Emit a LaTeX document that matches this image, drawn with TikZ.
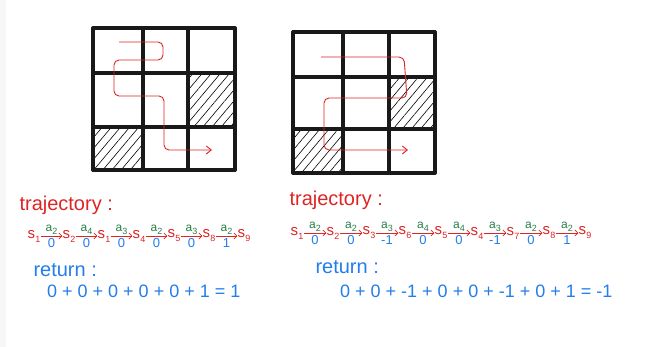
\documentclass[tikz,border=0pt]{standalone}
\usepackage{fontspec}
\setmainfont{Liberation Sans}
\usetikzlibrary{arrows.meta, patterns.meta}
\definecolor{penred}{RGB}{222,36,36}
\definecolor{pengreen}{RGB}{40,125,70}
\definecolor{penblue}{RGB}{35,125,235}
% letter with a lowered index
\newcommand{\idx}[2]{#1\kern0.3pt\raisebox{-0.5ex}{\fontsize{9}{9}\selectfont #2}}

\begin{document}
\begin{tikzpicture}[x=1pt, y=-1pt,
                gridline/.style={line width=3.3pt, line cap=round, black!90},
                hatch/.style={pattern={Lines[angle=50, distance=7pt, line width=0.6pt]}},
                walk/.style={penred, line width=0.9pt, rounded corners=5pt, -{Straight Barb[length=5pt, width=8pt]}},
                head/.style={anchor=west, text=penred, font=\fontsize{20}{22}\selectfont},
                state/.style={text=penred, font=\fontsize{15}{17}\selectfont, inner sep=0pt},
                move/.style={penred, line width=0.7pt, -{Straight Barb[length=3pt, width=6pt]}},
                act/.style={above=1pt, text=pengreen, font=\fontsize{12}{12}\selectfont, inner sep=0pt},
                rew/.style={below=2pt, text=penblue, font=\fontsize{13}{13}\selectfont, inner sep=0pt},
                ret/.style={anchor=west, text=penblue, font=\fontsize{20}{22}\selectfont},
                sum/.style={anchor=west, text=penblue, font=\fontsize{18}{20}\selectfont, inner sep=0pt}]
  \useasboundingbox (0,0) rectangle (657,347);
  \fill[black!3] (0,0) rectangle (6,347);

  % left grid
  \fill[hatch] (188,73) rectangle (235,127);
  \fill[hatch] (93,127) rectangle (143,170);
  \foreach \x in {93,143,188,235}
    \draw[gridline] (\x,28) -- (\x,170);
  \foreach \y in {28,73,127,170}
    \draw[gridline] (93,\y) -- (235,\y);
  \coordinate (startL) at (119,42);
  \coordinate (endL) at (212,150);
  \draw[walk] (startL) -- (163,42) -- (163,60) -- (114,60) -- (114,96)
    -- (164,96) -- (164,150) -- (endL);

  % right grid
  \fill[hatch] (389,77) rectangle (435,129);
  \fill[hatch] (293,129) rectangle (343,173);
  \foreach \x in {293,343,389,435}
    \draw[gridline] (\x,32) -- (\x,173);
  \foreach \y in {32,77,129,173}
    \draw[gridline] (293,\y) -- (435,\y);
  \coordinate (startR) at (321,57);
  \coordinate (endR) at (408,150);
  \draw[walk] (startR) -- (404,57) -- (407,98) -- (324,98) -- (324,150) -- (endR);

  % left texts
  \node[head] (trajL) at (16,205) {trajectory :};
  \foreach \s [count=\i] in {1,2,1,4,5,8,9}
    \node[state] (L\i) at ({34+35*(\i-1)},236) {\idx{s}{\s}};
  \foreach \a/\r [count=\i] in {2/0,4/0,3/0,2/0,3/0,2/1} {
    \pgfmathtruncatemacro\j{\i+1}
    \draw[move] (L\i) -- node[act] {\idx{a}{\a}} node[rew] {\r} (L\j);
  }
  \node[ret] (retL) at (30,270) {return :};
  \node[sum] (sumL) at (47,291) {0 + 0 + 0 + 0 + 0 + 1 = 1};

  % right texts
  \node[head] (trajR) at (286,200) {trajectory :};
  \foreach \s [count=\i] in {1,2,3,6,5,4,7,8,9}
    \node[state] (R\i) at ({297+36*(\i-1)},233) {\idx{s}{\s}};
  \foreach \a/\r [count=\i] in {2/0,2/0,3/-1,4/0,4/0,3/-1,2/0,2/1} {
    \pgfmathtruncatemacro\j{\i+1}
    \draw[move] (R\i) -- node[act] {\idx{a}{\a}} node[rew] {\r} (R\j);
  }
  \node[ret] (retR) at (312,267) {return :};
  \node[sum] (sumR) at (340,291) {0 + 0 + -1 + 0 + 0 + -1 + 0 + 1 = -1};
\end{tikzpicture}
\end{document}
